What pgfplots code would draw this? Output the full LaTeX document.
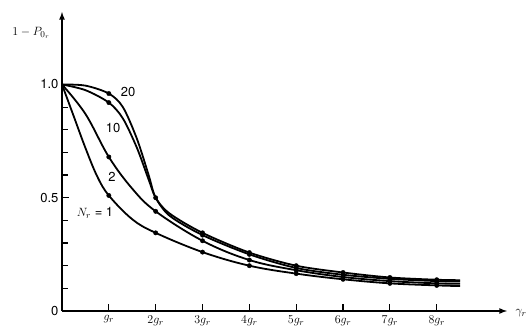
\documentclass[border=0pt]{standalone}
\usepackage{pgfplots}
\pgfplotsset{compat=1.18}
\usepackage{fontspec}
\setmainfont{TeX Gyre Heros}
\begin{document}
\begin{tikzpicture}[x=1pt,y=1pt,font=\fontsize{13}{15}\selectfont]
\begin{axis}[
  at={(0,0)}, anchor=origin,
  scale only axis, width=445pt, height=299pt,
  xmin=0, xmax=9.5, ymin=0, ymax=1.32,
  axis lines=left,
  axis line style={line width=1.6pt,-latex},
  xtick={1,...,8},
  xticklabels={$g_r$,$2g_r$,$3g_r$,$4g_r$,$5g_r$,$6g_r$,$7g_r$,$8g_r$},
  ytick={0,0.5,1},
  yticklabels={0,0.5,1.0},
  minor ytick={0.1,0.2,0.3,0.4,0.6,0.7,0.8,0.9},
  tick align=inside,
  major tick length=7pt, minor tick length=6pt,
  tick style={line width=1.2pt,black},
  ticklabel style={font=\fontsize{13}{15}\selectfont},
  xticklabel style={yshift=-1pt},
  /pgf/number format/assume math mode=true,
  clip=false,
]
\addplot[black, line width=1.8pt, smooth, tension=0.6] coordinates {
(0,1)(0.25,0.86)(0.5,0.72)(0.75,0.595)(1,0.51)(1.5,0.405)(2,0.345)(3,0.26)(4,0.20)(5,0.165)(6,0.14)(7,0.122)(8,0.113)(8.5,0.11)};
\addplot[black, line width=1.8pt, smooth, tension=0.6] coordinates {
(0,1)(0.5,0.87)(1,0.68)(1.5,0.54)(2,0.44)(3,0.31)(4,0.225)(5,0.18)(6,0.15)(7,0.132)(8,0.122)(8.5,0.12)};
\addplot[black, line width=1.8pt, smooth, tension=0.5] coordinates {
(0,1)(0.5,0.975)(1,0.92)(1.3,0.85)(1.6,0.72)(1.85,0.58)(2,0.5)(2.3,0.42)(3,0.335)(4,0.25)(5,0.19)(6,0.16)(7,0.142)(8,0.132)(8.5,0.13)};
\addplot[black, line width=1.8pt, smooth, tension=0.5] coordinates {
(0,1)(0.5,0.995)(1,0.96)(1.3,0.9)(1.6,0.76)(1.85,0.6)(2,0.5)(2.3,0.43)(3,0.345)(4,0.258)(5,0.20)(6,0.17)(7,0.148)(8,0.138)(8.5,0.136)};
\addplot[only marks, mark=*, mark size=2.2pt, black] coordinates {
(1,0.51)(2,0.345)(3,0.26)(4,0.20)(5,0.165)(6,0.14)(7,0.122)(8,0.113)};
\addplot[only marks, mark=*, mark size=2.2pt, black] coordinates {
(1,0.68)(2,0.44)(3,0.31)(4,0.225)(5,0.18)(6,0.15)(7,0.132)(8,0.122)};
\addplot[only marks, mark=*, mark size=2.2pt, black] coordinates {
(1,0.92)(2,0.5)(3,0.335)(4,0.25)(5,0.19)(6,0.16)(7,0.142)(8,0.132)};
\addplot[only marks, mark=*, mark size=2.2pt, black] coordinates {
(1,0.96)(3,0.345)(4,0.258)(5,0.20)(6,0.17)(7,0.148)(8,0.138)};
\end{axis}
\node at (66pt,219pt) {20};
\node at (51pt,183pt) {10};
\node at (50pt,134pt) {2};
\node at (33pt,98pt) {$N_r$ = 1};
\node at (-31pt,278pt) {$1-P_{0_r}$};
\node[anchor=west] at (450pt,-2pt) {$\gamma_r$};
\pgfresetboundingbox
\path[use as bounding box] (-62pt,-21pt) rectangle (468pt,311pt);
\end{tikzpicture}
\end{document}
